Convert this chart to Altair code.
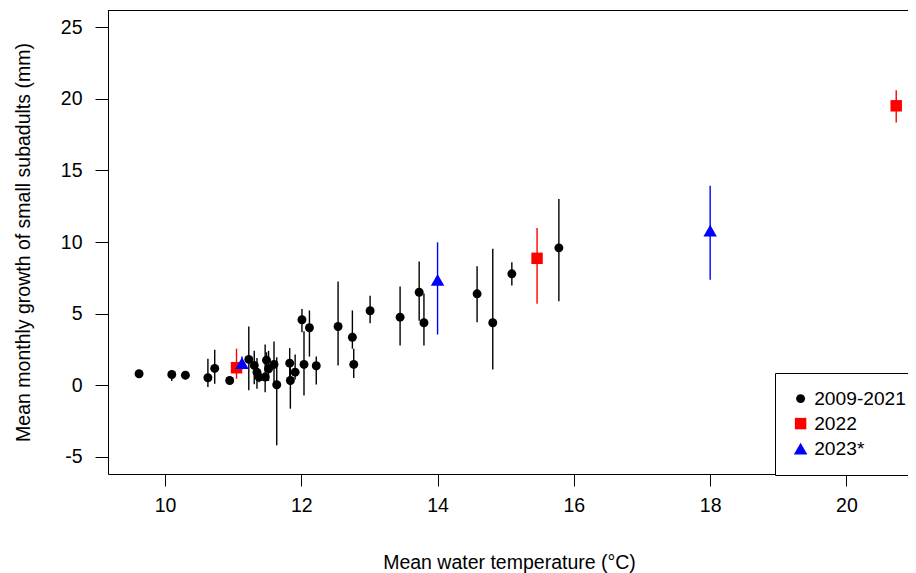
import altair as alt
import pandas as pd

# ---- data ----
# 2009-2021 (black circles)
black_x = [9.62, 10.10, 10.30, 10.63, 10.73, 10.95, 11.23, 11.31, 11.35, 11.38, 11.47, 11.49,
           11.52, 11.60, 11.64, 11.83, 11.84, 11.91, 12.01, 12.04, 12.12, 12.22, 12.54, 12.75,
           12.77, 13.01, 13.45, 13.73, 13.80, 14.58, 14.81, 15.09, 15.78]
black_y = [0.80, 0.75, 0.70, 0.52, 1.17, 0.33, 1.80, 1.38, 0.90, 0.57, 0.57, 1.75,
           1.15, 1.45, 0.03, 1.54, 0.33, 0.91, 4.57, 1.45, 4.01, 1.36, 4.10, 3.35,
           1.45, 5.20, 4.75, 6.49, 4.36, 6.38, 4.36, 7.78, 9.59]
black_lo = [0.65, 0.30, 0.40, -0.13, 0.10, 0.15, -0.36, 0.06, -0.25, 0.20, -0.50, 1.00,
            0.30, 0.20, -4.20, 0.10, -1.64, 0.40, 3.70, -0.71, 2.00, 0.05, 1.38, 2.55,
            0.50, 4.33, 2.78, 4.50, 2.78, 4.40, 1.10, 6.96, 5.86]
black_hi = [0.95, 1.05, 0.95, 1.85, 2.48, 0.50, 4.10, 2.40, 1.90, 0.95, 2.85, 2.30,
            2.40, 3.05, 1.96, 2.59, 1.26, 2.15, 5.33, 3.77, 5.22, 2.00, 7.24, 5.22,
            2.54, 6.24, 6.89, 8.63, 6.40, 8.31, 9.52, 8.58, 13.00]

# 2022 (red squares)
red_x = [11.05, 15.46, 20.73]
red_y = [1.22, 8.86, 19.51]
red_lo = [0.45, 5.68, 18.35]
red_hi = [2.55, 10.98, 20.60]

# 2023* (blue triangles)
blue_x = [11.13, 14.00, 18.00]
blue_y = [1.54, 7.36, 10.80]
blue_lo = [1.10, 3.54, 7.36]
blue_hi = [2.00, 9.98, 13.93]

series_names = ["2009-2021", "2022", "2023*"]
series_colors = ["#000000", "#FF0000", "#0000FF"]
series_shapes = ["circle", "square", "triangle-up"]
series_sizes = [80, 182, 265]

x_ticks = [10, 12, 14, 16, 18, 20]
y_ticks = [-5, 0, 5, 10, 15, 20, 25]

rows = []
for name, xs, ys, los, his in [
    (series_names[0], black_x, black_y, black_lo, black_hi),
    (series_names[1], red_x, red_y, red_lo, red_hi),
    (series_names[2], blue_x, blue_y, blue_lo, blue_hi),
]:
    for a, b, c, d in zip(xs, ys, los, his):
        rows.append({"series": name, "x": a, "y": b, "lo": c, "hi": d})
df = pd.DataFrame(rows)

FONT = "Liberation Sans"
W, H = 800, 464

x_scale = alt.Scale(domain=[9.164, 20.903], nice=False, zero=False)
y_scale = alt.Scale(domain=[-6.2, 26.2], nice=False, zero=False)
color_scale = alt.Scale(domain=series_names, range=series_colors)
shape_scale = alt.Scale(domain=series_names, range=series_shapes)
size_scale = alt.Scale(domain=series_names, range=series_sizes)

x_axis = alt.Axis(
    values=x_ticks, title="Mean water temperature (°C)", grid=False,
    labelExpr="datum.value + ''",
    tickSize=12, labelPadding=10, labelFontSize=19.5, titleFontSize=19.5,
    titleX=401, titleY=88, titleBaseline="middle", titleFontWeight="normal",
)
y_axis = alt.Axis(
    values=y_ticks, title="Mean monthly growth of small subadults (mm)", grid=False,
    labelExpr="datum.value + ''",
    tickSize=13, labelPadding=13, labelFontSize=19.5, titleFontSize=19.5,
    titleX=-85, titleY=232, titleBaseline="middle", titleAngle=-90,
    titleFontWeight="normal",
)

legend = alt.Legend(
    orient="none", legendX=667, legendY=363, title=None,
    fillColor="white", strokeColor="black", padding=16, cornerRadius=0,
    labelFontSize=19.2, labelFont=FONT, labelColor="black", symbolSize=55,
    labelOffset=4, rowPadding=5, symbolStrokeWidth=0, symbolOpacity=1,
)

bars = alt.Chart(df).mark_rule(strokeWidth=1.4).encode(
    x=alt.X("x:Q", scale=x_scale, axis=x_axis),
    y=alt.Y("lo:Q", scale=y_scale, axis=y_axis),
    y2="hi:Q",
    stroke=alt.Stroke("series:N", scale=color_scale, legend=None),
)

points = alt.Chart(df).mark_point(filled=True, opacity=1, strokeWidth=0).encode(
    x=alt.X("x:Q", scale=x_scale),
    y=alt.Y("y:Q", scale=y_scale),
    color=alt.Color("series:N", scale=color_scale, legend=legend),
    shape=alt.Shape("series:N", scale=shape_scale, legend=legend),
    size=alt.Size("series:N", scale=size_scale, legend=None),
)

top_border = alt.Chart(pd.DataFrame({"k": [0]})).mark_rule(color="black", strokeWidth=1).encode(
    x=alt.value(0), x2=alt.value(W), y=alt.value(0.5)
)

chart = alt.layer(bars, points, top_border).resolve_scale(
    stroke="independent"
).properties(
    width=W, height=H,
    padding={"left": 100, "top": 2, "right": 0, "bottom": 99},
    autosize=alt.AutoSizeParams(type="none"),
).configure_view(stroke=None).configure_axis(
    labelFont=FONT, titleFont=FONT, labelColor="black", titleColor="black",
    domainColor="black", tickColor="black", domainWidth=1, tickWidth=1,
)

chart.save("out.html", embed_options={"renderer": "svg", "actions": False})
